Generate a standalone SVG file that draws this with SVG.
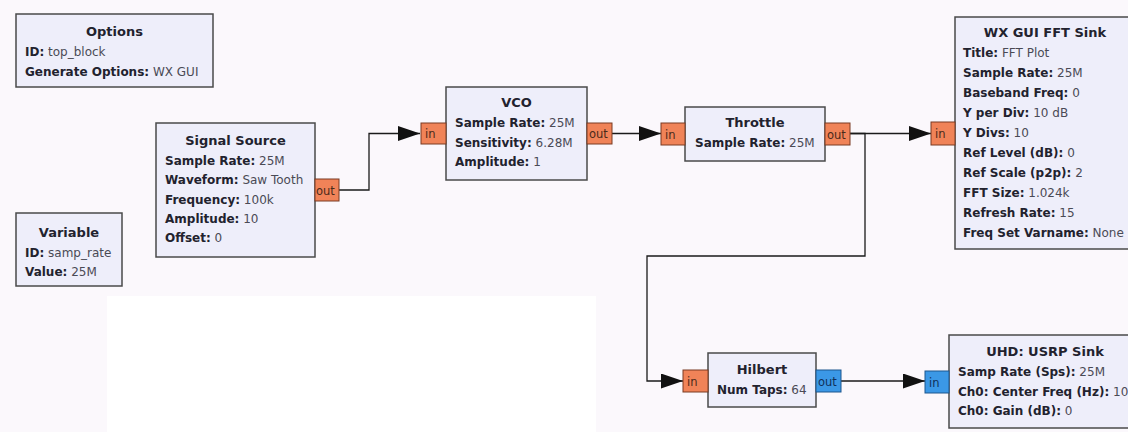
<svg xmlns="http://www.w3.org/2000/svg" width="1128" height="432" viewBox="0 0 1128 432">
<style>
.bg{fill:#fbf8fc}
.blk{fill:#eeeefa;stroke:#4a4a4a;stroke-width:1.5}
.po{fill:#f08358;stroke:#7a3a22;stroke-width:1}
.pb{fill:#3b98e6;stroke:#1d568e;stroke-width:1}
text{font-family:"DejaVu Sans","Noto Sans",sans-serif;font-size:12px;fill:#4a4a55}
.t{font-weight:bold;font-size:13px;fill:#22222e;text-anchor:middle}
.k{font-weight:bold;fill:#22222e}
.pt{font-size:11.5px;fill:#4a2a1a}
.ptb{font-size:11.5px;fill:#10305a}
.w{fill:none;stroke:#1a1a1a;stroke-width:1.3}
</style>
<defs>
<marker id="ar" markerUnits="userSpaceOnUse" markerWidth="23" markerHeight="16" refX="22" refY="7.5" orient="auto">
<path d="M0,0 L22,7.5 L0,15 Z" fill="#111"/>
</marker>
</defs>
<rect class="bg" x="0" y="0" width="1128" height="432"/>
<rect x="107" y="296" width="489" height="136" fill="#ffffff"/>

<g id="connectors">
<path class="w" d="M339,190 H369 V133.5 H420" marker-end="url(#ar)"/>
<path class="w" d="M612,133.5 H661" marker-end="url(#ar)"/>
<path class="w" d="M850,133.5 H931" marker-end="url(#ar)"/>
<path class="w" d="M850,133.5 H865 V256 H647 V381 H683" marker-end="url(#ar)"/>
<path class="w" d="M841,381 H925" marker-end="url(#ar)"/>
</g>

<g id="options">
<rect class="blk" x="16" y="14" width="197" height="73"/>
<text class="t" x="114.5" y="36">Options</text>
<text x="25" y="56"><tspan class="k">ID:</tspan> top_block</text>
<text x="25" y="76"><tspan class="k">Generate Options:</tspan> WX GUI</text>
</g>

<g id="variable">
<rect class="blk" x="16" y="213" width="106" height="73"/>
<text class="t" x="69" y="237">Variable</text>
<text x="25" y="257"><tspan class="k">ID:</tspan> samp_rate</text>
<text x="25" y="276"><tspan class="k">Value:</tspan> 25M</text>
</g>

<g id="signal_source">
<rect class="blk" x="156" y="123" width="159" height="134"/>
<text class="t" x="235.5" y="145">Signal Source</text>
<text x="165" y="165"><tspan class="k">Sample Rate:</tspan> 25M</text>
<text x="165" y="184"><tspan class="k">Waveform:</tspan> Saw Tooth</text>
<text x="165" y="204"><tspan class="k">Frequency:</tspan> 100k</text>
<text x="165" y="223"><tspan class="k">Amplitude:</tspan> 10</text>
<text x="165" y="242"><tspan class="k">Offset:</tspan> 0</text>
<rect class="po" x="315" y="179" width="24" height="22"/>
<text class="pt" x="316" y="194.5">out</text>
</g>

<g id="vco">
<rect class="blk" x="446" y="87" width="141" height="93"/>
<text class="t" x="516.5" y="107">VCO</text>
<text x="455" y="127"><tspan class="k">Sample Rate:</tspan> 25M</text>
<text x="455" y="147"><tspan class="k">Sensitivity:</tspan> 6.28M</text>
<text x="455" y="166"><tspan class="k">Amplitude:</tspan> 1</text>
<rect class="po" x="421" y="123" width="25" height="21"/>
<text class="pt" x="425" y="138">in</text>
<rect class="po" x="587" y="123" width="25" height="21"/>
<text class="pt" x="589" y="138">out</text>
</g>

<g id="throttle">
<rect class="blk" x="685" y="107" width="140" height="54"/>
<text class="t" x="755" y="127">Throttle</text>
<text x="695" y="147"><tspan class="k">Sample Rate:</tspan> 25M</text>
<rect class="po" x="661" y="123" width="24" height="22"/>
<text class="pt" x="665" y="138.5">in</text>
<rect class="po" x="825" y="123" width="25" height="22"/>
<text class="pt" x="827" y="138.5">out</text>
</g>

<g id="fft_sink">
<rect class="blk" x="955" y="17" width="180" height="232"/>
<text class="t" x="1045" y="37">WX GUI FFT Sink</text>
<text x="963" y="57"><tspan class="k">Title:</tspan> FFT Plot</text>
<text x="963" y="77"><tspan class="k">Sample Rate:</tspan> 25M</text>
<text x="963" y="97"><tspan class="k">Baseband Freq:</tspan> 0</text>
<text x="963" y="117"><tspan class="k">Y per Div:</tspan> 10 dB</text>
<text x="963" y="137"><tspan class="k">Y Divs:</tspan> 10</text>
<text x="963" y="157"><tspan class="k">Ref Level (dB):</tspan> 0</text>
<text x="963" y="177"><tspan class="k">Ref Scale (p2p):</tspan> 2</text>
<text x="963" y="197"><tspan class="k">FFT Size:</tspan> 1.024k</text>
<text x="963" y="217"><tspan class="k">Refresh Rate:</tspan> 15</text>
<text x="963" y="237"><tspan class="k">Freq Set Varname:</tspan> None</text>
<rect class="po" x="931" y="122" width="24" height="23"/>
<text class="pt" x="935" y="138">in</text>
</g>

<g id="hilbert">
<rect class="blk" x="708" y="353" width="108" height="54"/>
<text class="t" x="762" y="374">Hilbert</text>
<text x="717" y="394"><tspan class="k">Num Taps:</tspan> 64</text>
<rect class="po" x="683" y="370" width="25" height="22"/>
<text class="pt" x="687" y="385.5">in</text>
<rect class="pb" x="816" y="370" width="25" height="22"/>
<text class="ptb" x="818" y="385.5">out</text>
</g>

<g id="usrp_sink">
<rect class="blk" x="949" y="335" width="192" height="93"/>
<text class="t" x="1045" y="356">UHD: USRP Sink</text>
<text x="958" y="376"><tspan class="k">Samp Rate (Sps):</tspan> 25M</text>
<text x="958" y="396"><tspan class="k">Ch0: Center Freq (Hz):</tspan> 10</text>
<text x="958" y="415"><tspan class="k">Ch0: Gain (dB):</tspan> 0</text>
<rect class="pb" x="925" y="371" width="24" height="22"/>
<text class="ptb" x="929" y="386.5">in</text>
</g>
</svg>
